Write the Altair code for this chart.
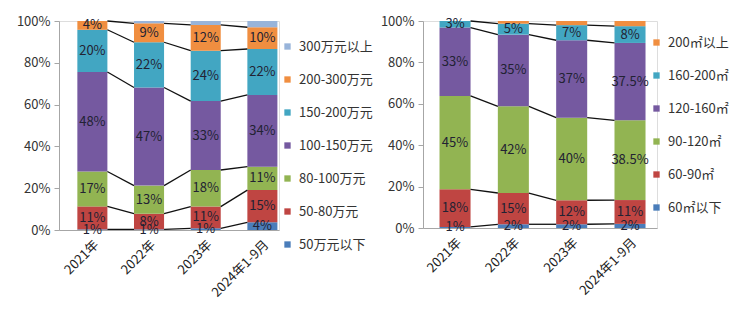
import altair as alt
import pandas as pd

cats = ["2021年", "2022年", "2023年", "2024年1-9月"]

# ---- left chart: total price bands (bottom -> top) ----
price_series = ["50万元以下", "50-80万元", "80-100万元", "100-150万元",
                "150-200万元", "200-300万元", "300万元以上"]
p_lt50 = [0.3, 0.3, 0.8, 3.7]
p_50_80 = [11.0, 7.5, 10.4, 15.4]
p_80_100 = [16.7, 13.5, 17.5, 11.2]
p_100_150 = [47.6, 47.1, 33.0, 34.3]
p_150_200 = [20.2, 21.7, 24.1, 22.0]
p_200_300 = [4.2, 9.1, 12.3, 10.4]
p_300plus = [0.0, 1.1, 1.9, 3.0]
price_values = [p_lt50, p_50_80, p_80_100, p_100_150, p_150_200, p_200_300, p_300plus]

pl_lt50 = ["1%", "1%", "1%", "4%"]
pl_50_80 = ["11%", "8%", "11%", "15%"]
pl_80_100 = ["17%", "13%", "18%", "11%"]
pl_100_150 = ["48%", "47%", "33%", "34%"]
pl_150_200 = ["20%", "22%", "24%", "22%"]
pl_200_300 = ["4%", "9%", "12%", "10%"]
pl_300plus = ["", "", "", ""]
price_labels = [pl_lt50, pl_50_80, pl_80_100, pl_100_150, pl_150_200, pl_200_300, pl_300plus]

# ---- right chart: area bands (bottom -> top) ----
area_series = ["60㎡以下", "60-90㎡", "90-120㎡", "120-160㎡", "160-200㎡", "200㎡以上"]
a_lt60 = [0.5, 1.8, 1.8, 2.0]
a_60_90 = [18.2, 15.1, 11.6, 11.5]
a_90_120 = [45.1, 41.9, 39.9, 38.5]
a_120_160 = [33.0, 34.6, 37.4, 37.4]
a_160_200 = [3.2, 5.3, 7.3, 8.1]
a_200plus = [0.0, 1.3, 2.0, 2.5]
area_values = [a_lt60, a_60_90, a_90_120, a_120_160, a_160_200, a_200plus]

al_lt60 = ["1%", "2%", "2%", "2%"]
al_60_90 = ["18%", "15%", "12%", "11%"]
al_90_120 = ["45%", "42%", "40%", "38.5%"]
al_120_160 = ["33%", "35%", "37%", "37.5%"]
al_160_200 = ["3%", "5%", "7%", "8%"]
al_200plus = ["", "", "", ""]
area_labels = [al_lt60, al_60_90, al_90_120, al_120_160, al_160_200, al_200plus]

price_colors = ["#4A7DBA", "#BF4542", "#92B452", "#7559A0", "#42A6C2", "#F08E40", "#98B4DA"]
area_colors = ["#4A7DBA", "#BF4542", "#92B452", "#7559A0", "#42A6C2", "#F08E40"]

FONT = "Noto Sans CJK SC"
AX = "#a6a6a6"


def build(series, values, labels):
    bars, lines = [], []
    tops = []
    for ci, c in enumerate(cats):
        total = sum(v[ci] for v in values)
        acc = 0.0
        t = []
        for si, s in enumerate(series):
            v = values[si][ci] / total
            bars.append(dict(cat=c, series=s, y0=acc, y1=acc + v,
                             mid=acc + v / 2, label=labels[si][ci]))
            acc += v
            t.append(acc)
        tops.append(t)
    for si in range(len(series) - 1):
        for ci in range(len(cats) - 1):
            lines.append(dict(cat=cats[ci], cat2=cats[ci + 1],
                              y=tops[ci][si], y2=tops[ci + 1][si]))
    return pd.DataFrame(bars), pd.DataFrame(lines)


def panel(series, values, labels, colors, width, height, pin, pout, align, lx, ly):
    bars, lines = build(series, values, labels)
    xscale = alt.Scale(domain=cats, paddingInner=pin, paddingOuter=pout, align=align)
    yscale = alt.Scale(domain=[0, 1], nice=False)
    xaxis = alt.Axis(title=None, labelAngle=-45, labelFontSize=13, labelColor="#222222",
                     ticks=False, domainColor=AX, labelPadding=8, labelFont=FONT)
    yaxis = alt.Axis(title=None, format=".0%", values=[0, 0.2, 0.4, 0.6, 0.8, 1.0],
                     labelFontSize=13, labelColor="#333333", tickSize=5, tickColor=AX,
                     domainColor=AX, grid=False, labelPadding=4, labelFont=FONT)
    color = alt.Color("series:N",
                      scale=alt.Scale(domain=list(reversed(series)), range=list(reversed(colors))),
                      legend=alt.Legend(orient="none", legendX=lx, legendY=ly, title=None,
                                        symbolType="square", symbolSize=40, symbolStrokeWidth=0,
                                        labelFontSize=13, labelColor="#333333", labelFont=FONT,
                                        rowPadding=19, labelOffset=5, padding=0))
    b = alt.Chart(bars).mark_bar().encode(
        x=alt.X("cat:N", scale=xscale, axis=xaxis),
        y=alt.Y("y0:Q", scale=yscale, axis=yaxis),
        y2="y1:Q",
        color=color,
    )
    r = alt.Chart(lines).mark_rule(color="#111111", strokeWidth=1.3).encode(
        x=alt.X("cat:N", bandPosition=1),
        x2=alt.X2("cat2:N", bandPosition=0),
        y="y:Q",
        y2="y2:Q",
    )
    t = alt.Chart(bars).transform_filter("datum.label != ''").mark_text(
        fontSize=13, color="#222233", font=FONT).encode(
        x=alt.X("cat:N"),
        y=alt.Y("mid:Q"),
        text="label:N",
    )
    return alt.layer(b, r, t).properties(width=width, height=height)


left = panel(price_series, price_values, price_labels, price_colors,
             220, 209, 0.47, 0.176, 0.92, 222, 19)
right = panel(area_series, area_values, area_labels, area_colors,
              234, 207, 0.468, 0.24, 0.59, 227, 15)

chart = alt.hconcat(left, right, spacing=5).resolve_scale(
    color="independent", x="independent", y="independent"
).properties(
    padding={"left": 15, "top": 14, "right": 0, "bottom": 0}
).configure_view(stroke=None).configure(font=FONT)

chart.save("out.html", embed_options={"renderer": "svg", "actions": False})
